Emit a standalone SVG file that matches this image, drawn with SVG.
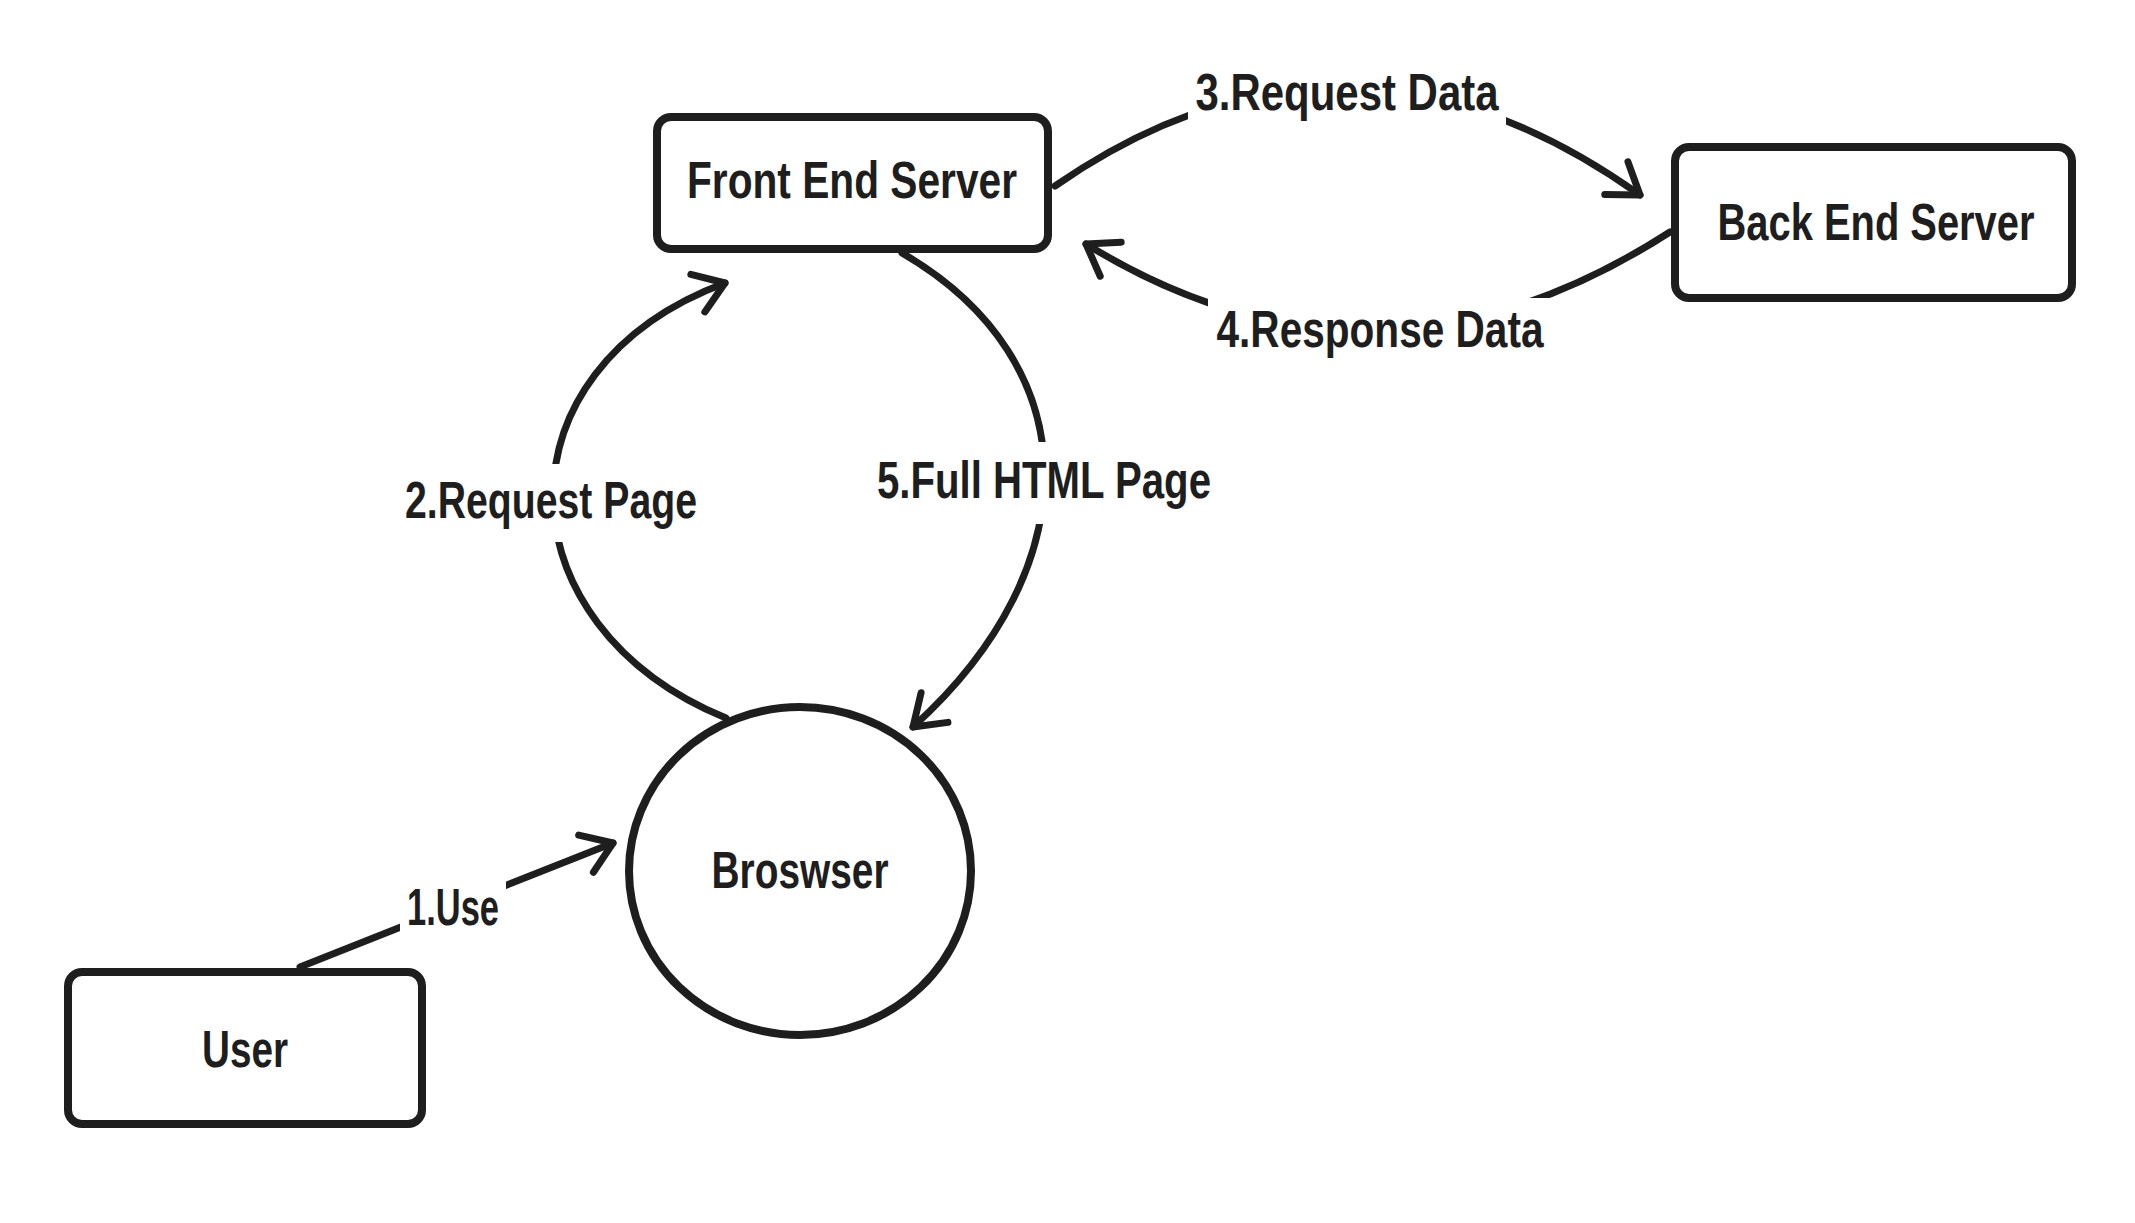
<svg xmlns="http://www.w3.org/2000/svg" width="2135" height="1223" viewBox="0 0 2135 1223">
<style>
  .box { fill: #ffffff; stroke: #1e1e1e; stroke-width: 8; }
  .edge { fill: none; stroke: #1e1e1e; stroke-width: 7; stroke-linecap: round; }
  .lbl { font-family: "Liberation Sans", Arial, sans-serif; font-weight: bold; font-size: 52px; fill: #1e1e1e; text-anchor: middle; }
  .bg { fill: #ffffff; stroke: none; }
</style>
<defs>
  <marker id="arrow" markerUnits="userSpaceOnUse" viewBox="-40 -30 46 60" refX="0" refY="0" markerWidth="46" markerHeight="60" orient="auto" overflow="visible">
    <path d="M-29,-20 L0,0 L-29,20" fill="none" stroke="#1e1e1e" stroke-width="7" stroke-linecap="round" stroke-linejoin="round"/>
  </marker>
</defs>
<rect width="2135" height="1223" fill="#ffffff"/>

<g id="connectors">
  <g id="edge-use">
    <path class="edge" d="M300,967 L613,843" marker-end="url(#arrow)"/>
    <rect class="bg" x="400" y="878" width="106" height="58"/>
    <text class="lbl" x="453" y="925" textLength="92" lengthAdjust="spacingAndGlyphs">1.Use</text>
  </g>
  <g id="edge-request-page">
    <path class="edge" d="M726,718 C500,625 492,370 725,283" marker-end="url(#arrow)"/>
    <rect class="bg" x="398" y="464" width="306" height="78"/>
    <text class="lbl" x="551" y="518" textLength="292" lengthAdjust="spacingAndGlyphs">2.Request Page</text>
  </g>
  <g id="edge-request-data">
    <path class="edge" d="M1055,186 Q1345,-15 1640,195" marker-end="url(#arrow)"/>
    <rect class="bg" x="1188" y="62" width="318" height="70"/>
    <text class="lbl" x="1347" y="110" textLength="303" lengthAdjust="spacingAndGlyphs">3.Request Data</text>
  </g>
  <g id="edge-response-data">
    <path class="edge" d="M1670,232 Q1375,422 1086,244" marker-end="url(#arrow)"/>
    <rect class="bg" x="1208" y="298" width="342" height="68"/>
    <text class="lbl" x="1380" y="347" textLength="327" lengthAdjust="spacingAndGlyphs">4.Response Data</text>
  </g>
  <g id="edge-full-html">
    <path class="edge" d="M902,253 C1088,361 1092,565 913,727" marker-end="url(#arrow)"/>
    <rect class="bg" x="868" y="442" width="352" height="82"/>
    <text class="lbl" x="1044" y="498" textLength="334" lengthAdjust="spacingAndGlyphs">5.Full HTML Page</text>
  </g>
</g>

<g id="node-front-end">
  <rect class="box" x="657" y="117" width="391" height="132" rx="14"/>
  <text class="lbl" x="852" y="198" textLength="330" lengthAdjust="spacingAndGlyphs">Front End Server</text>
</g>
<g id="node-back-end">
  <rect class="box" x="1675" y="147" width="397" height="151" rx="14"/>
  <text class="lbl" x="1876" y="240" textLength="317" lengthAdjust="spacingAndGlyphs">Back End Server</text>
</g>
<g id="node-browser">
  <ellipse class="box" cx="800" cy="871" rx="171" ry="164"/>
  <text class="lbl" x="800" y="888" textLength="177" lengthAdjust="spacingAndGlyphs">Broswser</text>
</g>
<g id="node-user">
  <rect class="box" x="68" y="972" width="354" height="152" rx="14"/>
  <text class="lbl" x="245" y="1067" textLength="86" lengthAdjust="spacingAndGlyphs">User</text>
</g>
</svg>
